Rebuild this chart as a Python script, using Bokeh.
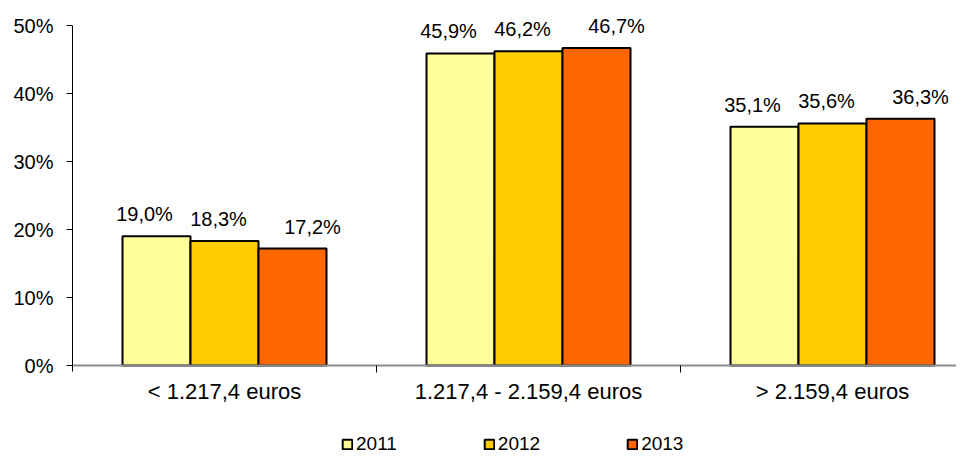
from bokeh.plotting import figure
from bokeh.models import (ColumnDataSource, FixedTicker, Legend, LegendItem,
                          Range1d)
from bokeh.core.properties import value
from bokeh.embed import file_html
from bokeh.resources import INLINE

# ---------------- data ----------------
categories = ["< 1.217,4 euros", "1.217,4 - 2.159,4 euros", "> 2.159,4 euros"]
years = ["2011", "2012", "2013"]
v2011 = [19.0, 45.9, 35.1]
v2012 = [18.3, 46.2, 35.6]
v2013 = [17.2, 46.7, 36.3]
y_ticks = [0, 10, 20, 30, 40, 50]
y_tick_labels = ["0%", "10%", "20%", "30%", "40%", "50%"]

# ---------------- styling ----------------
FONT = "Liberation Sans"
colors = ["#FFFF99", "#FFCC00", "#FF6600"]
W, H = 956, 456
LEFT = 72
Y0_PX, Y50_PX = 365, 25            # pixel rows of 0% and 50%
PX_PER_UNIT = (Y0_PX - Y50_PX) / 50.0
CAT_PX = 304.0                      # pixel width of one category
BAR_W = 68.0 / CAT_PX               # bar width in data units
label_dx = [-12, -6, 20]            # data label horizontal nudges (px)

x_end = (W - LEFT) / CAT_PX
y_top = 50 + Y50_PX / PX_PER_UNIT
y_bot = -(H - Y0_PX) / PX_PER_UNIT

p = figure(width=W, height=H, output_backend="svg", toolbar_location=None,
           x_range=Range1d(0, x_end), y_range=Range1d(y_bot, y_top),
           min_border_left=LEFT, min_border_top=0,
           min_border_bottom=0, min_border_right=0)
p.xgrid.visible = False
p.ygrid.visible = False
p.outline_line_color = None
p.background_fill_color = "white"
p.border_fill_color = "white"

series = [v2011, v2012, v2013]
renderers = []
for i, (vals, col) in enumerate(zip(series, colors)):
    xs = [k + 0.5 + (i - 1) * BAR_W for k in range(len(categories))]
    src = ColumnDataSource(dict(
        x=xs, top=vals,
        lab=[f"{v:.1f}".replace(".", ",") + "%" for v in vals]))
    r = p.vbar(x="x", top="top", width=BAR_W, bottom=0, source=src,
               fill_color=col, line_color="black", line_width=2)
    renderers.append(r)
    p.text(x="x", y="top", text="lab", source=src,
           text_align="center", text_baseline="bottom",
           x_offset=label_dx[i], y_offset=-11,
           text_font=value(FONT), text_font_size="20px", text_color="black")

# y axis
ya = p.yaxis[0]
ya.ticker = FixedTicker(ticks=y_ticks, minor_ticks=[])
ya.bounds = (-0.9, 50)
ya.major_label_overrides = {t: l for t, l in zip(y_ticks, y_tick_labels)}
ya.axis_line_color = "black"
ya.axis_line_width = 1
ya.major_tick_line_color = "black"
ya.major_tick_out = 6
ya.major_tick_in = 0
ya.minor_tick_line_color = None
ya.major_label_standoff = 13
ya.major_label_text_font = FONT
ya.major_label_text_font_size = "20px"
ya.major_label_text_color = "black"

# x axis (drawn at 0%)
xa = p.xaxis[0]
xa.fixed_location = 0
centers = [k + 0.5 for k in range(len(categories))]
xa.ticker = FixedTicker(ticks=centers,
                        minor_ticks=[k for k in range(1, len(categories))])
xa.major_label_overrides = {c: l for c, l in zip(centers, categories)}
xa.axis_line_color = "#8C8C8C"
xa.axis_line_width = 2
xa.major_tick_out = 0
xa.major_tick_in = 0
xa.minor_tick_out = 7
xa.minor_tick_in = 0
xa.minor_tick_line_color = "black"
xa.minor_tick_line_width = 1
xa.major_label_standoff = 6
xa.major_label_text_font = FONT
xa.major_label_text_font_size = "22px"
xa.major_label_text_color = "black"

legend = Legend(items=[LegendItem(label=y, renderers=[r])
                       for y, r in zip(years, renderers)],
                location=(269, 1), orientation="horizontal",
                glyph_width=12, glyph_height=12, label_standoff=3,
                spacing=86, padding=0, margin=0, label_height=12,
                label_text_font=FONT, label_text_font_size="19px",
                label_text_color="black",
                background_fill_alpha=0, border_line_alpha=0)
p.add_layout(legend)

open("out.html", "w").write(file_html(p, INLINE))
